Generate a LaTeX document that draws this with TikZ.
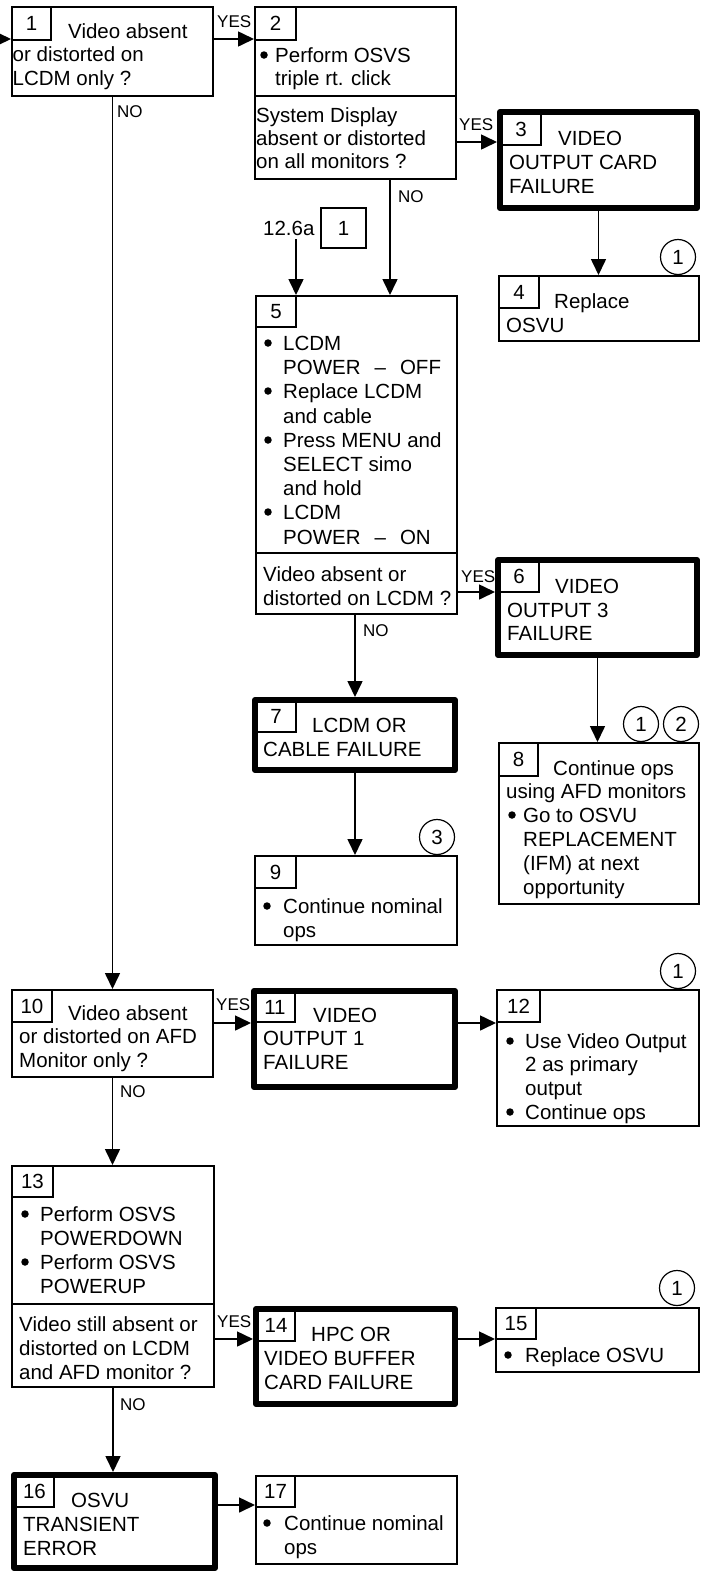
\documentclass[tikz,border=0pt]{standalone}
\usepackage{fontspec}
\setmainfont{Liberation Sans}
\usetikzlibrary{arrows.meta}
\newcounter{tl}
\tikzset{
 thinbox/.style={draw, line width=1.6pt, inner sep=0pt, rectangle},
 thickbox/.style={draw, line width=6pt, inner sep=0pt, rectangle, line join=round},
 numbox/.style={draw, line width=1.6pt, inner sep=0pt, rectangle, font=\fontsize{20.5}{24}\selectfont},
 txt/.style={anchor=base west, inner sep=0pt, font=\fontsize{20.5}{24}\selectfont},
 bul/.style={circle, fill=black, inner sep=0pt, minimum size=7.5pt},
 lbl/.style={anchor=base west, inner sep=0pt, font=\fontsize{17}{20}\selectfont},
 arr/.style={line width=1.6pt, -{Triangle[length=16pt,width=15pt]}},
 circ/.style={draw, circle, line width=1.2pt, minimum size=35pt, inner sep=0pt, font=\fontsize{20.5}{24}\selectfont},
 sepline/.style={line width=1.6pt},
}
\newcommand\tnbox[5]{\node[thinbox, minimum width={#4-#2-1.6}, minimum height={#5-#3-1.6}] (#1) at ({(#2+#4)/2},{(#3+#5)/2}) {};}
\newcommand\tkbox[5]{\node[thickbox, minimum width={#4-#2-6}, minimum height={#5-#3-6}] (#1) at ({(#2+#4)/2},{(#3+#5)/2}) {};}
\newcommand\nbox[6]{\node[numbox, minimum width={#4-#2-1.6}, minimum height={#5-#3-1.6}] (#1) at ({(#2+#4)/2},{(#3+#5)/2}) {#6};}
\newcommand\tline[3]{\stepcounter{tl}\node[txt] (tl\arabic{tl}) at (#1,#2) {#3};}
\newcommand\bline[4]{\stepcounter{tl}\node[bul] (bu\arabic{tl}) at (#1,{#3-7}) {};\node[txt] (tl\arabic{tl}) at (#2,#3) {#4};}
\begin{document}
\begin{tikzpicture}[x=1pt,y=-1pt]
\fill[white] (0,0) rectangle (701,1572);
\useasboundingbox (0,0) rectangle (701,1572);

% box 1
\tnbox{b1}{11}{6}{214}{97}
\nbox{n1}{11}{6}{52}{41}{1}
\tline{68}{38}{Video absent}
\tline{12.5}{61.5}{or distorted on}
\tline{12.5}{85}{LCDM only ?}

% box 2
\tnbox{b2}{254}{6}{457}{180}
\nbox{n2}{254}{6}{297}{41}{2}
\draw[sepline] (b2.west |- 0,96) -- (b2.east |- 0,96);
\bline{264}{275}{62}{Perform OSVS}
\tline{275}{85}{triple rt. click}
\tline{256}{122}{System Display}
\tline{256}{145}{absent or distorted}
\tline{256}{168}{on all monitors ?}

% box 3
\tkbox{b3}{497}{109}{700}{211}
\nbox{n3}{500}{112}{542}{146}{3}
\tline{558}{145}{VIDEO}
\tline{509}{169}{OUTPUT CARD}
\tline{509}{193}{FAILURE}

% box 4
\tnbox{b4}{498}{275}{700}{342}
\nbox{n4}{498}{275}{540}{309}{4}
\tline{554}{308}{Replace}
\tline{506}{332}{OSVU}
\node[circ] (c4) at (678,257) {1};

% reference 12.6a
\tline{263}{235}{12.6a}
\nbox{r1}{320}{207}{367}{249}{1}
\coordinate (s1) at (296,239);

% box 5
\tnbox{b5}{255}{295}{458}{615}
\nbox{n5}{255}{295}{297}{328}{5}
\draw[sepline] (b5.west |- 0,553) -- (b5.east |- 0,553);
\bline{268}{283}{350}{LCDM}
\tline{283}{374}{POWER\hspace{14pt}–\hspace{14pt}OFF}
\bline{268}{283}{398}{Replace LCDM}
\tline{283}{423}{and cable}
\bline{268}{283}{447}{Press MENU and}
\tline{283}{471}{SELECT simo}
\tline{283}{495}{and hold}
\bline{268}{283}{519}{LCDM}
\tline{283}{544}{POWER\hspace{14pt}–\hspace{14pt}ON}
\tline{263}{581}{Video absent or}
\tline{263}{605}{distorted on LCDM ?}

% box 6
\tkbox{b6}{495}{557}{700}{658}
\nbox{n6}{498}{560}{540}{593}{6}
\tline{555}{593}{VIDEO}
\tline{507}{617}{OUTPUT 3}
\tline{507}{640}{FAILURE}

% box 7
\tkbox{b7}{252}{697}{458}{773}
\nbox{n7}{255}{700}{297}{733}{7}
\tline{312}{732}{LCDM OR}
\tline{263}{756}{CABLE FAILURE}

% box 8
\tnbox{b8}{498}{742}{700}{905}
\nbox{n8}{498}{742}{539}{777}{8}
\tline{553}{775}{Continue ops}
\tline{506}{798}{using AFD monitors}
\bline{512}{523}{822}{Go to OSVU}
\tline{523}{846}{REPLACEMENT}
\tline{523}{870}{(IFM) at next}
\tline{523}{894}{opportunity}
\node[circ] (c8a) at (641,724) {1};
\node[circ] (c8b) at (681,724) {2};

% box 9
\tnbox{b9}{254}{855}{458}{946}
\nbox{n9}{254}{855}{297}{889}{9}
\bline{267}{283}{913}{Continue nominal}
\tline{283}{937}{ops}
\node[circ] (c9) at (437,837) {3};

% box 10
\tnbox{b10}{11}{989}{214}{1078}
\nbox{n10}{11}{989}{53}{1023}{10}
\tline{68}{1020}{Video absent}
\tline{19}{1043}{or distorted on AFD}
\tline{19}{1067}{Monitor only ?}

% box 11
\tkbox{b11}{251}{988}{458}{1090}
\nbox{n11}{254}{991}{296}{1023}{11}
\tline{313}{1022}{VIDEO}
\tline{263}{1045}{OUTPUT 1}
\tline{263}{1069}{FAILURE}

% box 12
\tnbox{b12}{496}{989}{700}{1127}
\nbox{n12}{496}{989}{541}{1023}{12}
\bline{510}{525}{1048}{Use Video Output}
\tline{525}{1071}{2 as primary}
\tline{525}{1095}{output}
\bline{510}{525}{1119}{Continue ops}
\node[circ] (c12) at (678,971) {1};

% box 13
\tnbox{b13}{11}{1165}{215}{1388}
\nbox{n13}{11}{1165}{54}{1198}{13}
\draw[sepline] (b13.west |- 0,1304) -- (b13.east |- 0,1304);
\bline{25}{40}{1221}{Perform OSVS}
\tline{40}{1245}{POWERDOWN}
\bline{25}{40}{1269}{Perform OSVS}
\tline{40}{1293}{POWERUP}
\tline{19}{1331}{Video still absent or}
\tline{19}{1355}{distorted on LCDM}
\tline{19}{1379}{and AFD monitor ?}

% box 14
\tkbox{b14}{253}{1306}{458}{1407}
\nbox{n14}{256}{1309}{296}{1342}{14}
\tline{311}{1341}{HPC OR}
\tline{264}{1365}{VIDEO BUFFER}
\tline{264}{1389}{CARD FAILURE}

% box 15
\tnbox{b15}{495}{1307}{700}{1373}
\nbox{n15}{495}{1307}{537}{1340}{15}
\bline{508}{525}{1362}{Replace OSVU}
\node[circ] (c15) at (677,1288) {1};

% box 16
\tkbox{b16}{11}{1472}{218}{1571}
\nbox{n16}{14}{1475}{55}{1508}{16}
\tline{71}{1507}{OSVU}
\tline{23}{1531}{TRANSIENT}
\tline{23}{1555}{ERROR}

% box 17
\tnbox{b17}{255}{1475}{458}{1565}
\nbox{n17}{255}{1475}{296}{1508}{17}
\bline{267}{284}{1530}{Continue nominal}
\tline{284}{1554}{ops}

% connectors
\coordinate (start) at (0,39);
\draw[arr] (start) -- (start -| b1.west);
\draw[arr] (b1.east |- start) -- (b2.west |- start);
\coordinate (y3) at (0,142);
\draw[arr] (b2.east |- y3) -- (b3.west |- y3);
\draw[arr] (b3.south) -- (b3.south |- b4.north);
\coordinate (x5) at (390,0);
\draw[arr] (b2.south -| x5) -- (b5.north -| x5);
\draw[arr] (s1) -- (s1 |- b5.north);
\coordinate (y6) at (0,592);
\draw[arr] (b5.east |- y6) -- (b6.west |- y6);
\draw[arr] (b6.south) -- (b6.south |- b8.north);
\draw[arr] (b5.south -| b7.north) -- (b7.north);
\draw[arr] (b7.south) -- (b7.south |- b9.north);
\draw[arr] (b1.south) -- (b1.south |- b10.north);
\coordinate (y11) at (0,1023);
\draw[arr] (b10.east |- y11) -- (b11.west |- y11);
\draw[arr] (b11.east |- y11) -- (b12.west |- y11);
\draw[arr] (b10.south) -- (b10.south |- b13.north);
\coordinate (y14) at (0,1339);
\draw[arr] (b13.east |- y14) -- (b14.west |- y14);
\draw[arr] (b14.east |- y14) -- (b15.west |- y14);
\draw[arr] (b13.south) -- (b13.south |- b16.north);
\coordinate (y17) at (0,1505);
\draw[arr] (b16.east |- y17) -- (b17.west |- y17);

% labels
\node[lbl] (yes1) at (217,27) {YES};
\node[lbl] (no1) at (117,117) {NO};
\node[lbl] (yes2) at (459,130) {YES};
\node[lbl] (no2) at (398,202) {NO};
\node[lbl] (yes5) at (461,582) {YES};
\node[lbl] (no5) at (363,636) {NO};
\node[lbl] (yes10) at (216,1010) {YES};
\node[lbl] (no10) at (120,1097) {NO};
\node[lbl] (yes13) at (217,1327) {YES};
\node[lbl] (no13) at (120,1410) {NO};
\end{tikzpicture}
\end{document}
